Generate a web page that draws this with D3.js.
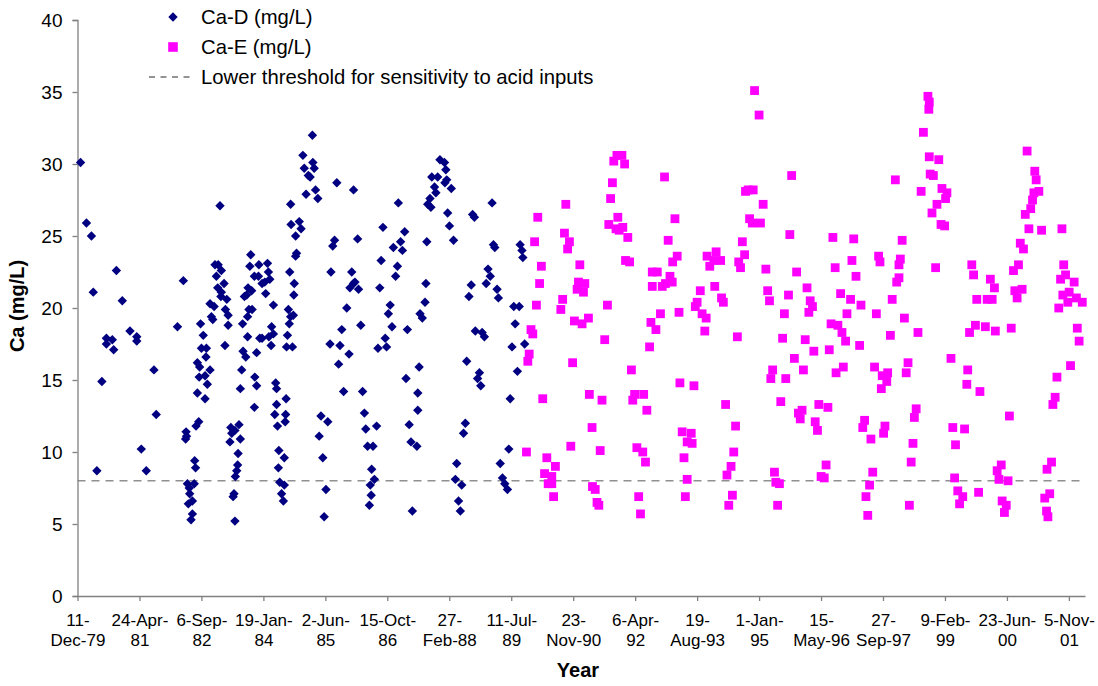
<!DOCTYPE html>
<html>
<head>
<meta charset="utf-8">
<script src="https://cdn.jsdelivr.net/npm/d3@7"></script>
<style>
  html, body { margin: 0; padding: 0; background: #fff; }
  svg { display: block; }
  text { font-family: Arial, "Liberation Sans", sans-serif; fill: #000; }
</style>
</head>
<body>
<svg id="chart" width="1098" height="686"></svg>
<script>
// ---------------- DATA ----------------
const tickLabels = [
  ["11-","Dec-79"],["24-Apr-","81"],["6-Sep-","82"],["19-Jan-","84"],["2-Jun-","85"],
  ["15-Oct-","86"],["27-","Feb-88"],["11-Jul-","89"],["23-","Nov-90"],["6-Apr-","92"],
  ["19-","Aug-93"],["1-Jan-","95"],["15-","May-96"],["27-","Sep-97"],["9-Feb-","99"],
  ["23-Jun-","00"],["5-Nov-","01"]
];
const tickDates = ["1979-12-11","1981-04-24","1982-09-06","1984-01-19","1985-06-02",
  "1986-10-15","1988-02-27","1989-07-11","1990-11-23","1992-04-06","1993-08-19",
  "1995-01-01","1996-05-15","1997-09-27","1999-02-09","2000-06-23","2001-11-05"];
const yTicks = [0,5,10,15,20,25,30,35,40];
const threshold = 8;

// Ca-D sample times (decimal years) and values (mg/L)
const caDYears = [
1980.01,1980.14,1980.25,1980.29,1980.80,1980.93,1980.58,1980.71,1980.58,1980.74,1981.10,1981.25,1981.25,1980.48,1980.37,1981.63,1981.68,1981.35,1981.46,1982.28,1982.15,1983.09,
1982.66,1982.72,1982.68,1982.79,1982.78,1982.59,1982.64,1982.87,1982.63,1982.76,1982.81,1982.59,1982.76,1982.62,1982.56,1982.34,1982.35,1982.33,1982.53,1982.55,1982.37,1982.52,1982.41,1982.42,1982.39,1982.48,1982.48,1982.45,
1982.98,1983.05,1983.12,1983.01,1983.18,1983.04,1983.12,1983.11,1983.24,1982.87,1982.96,1983.21,1983.27,1982.90,1982.93,1983.27,1983.20,
1983.33,1983.42,1983.51,1983.35,1983.54,1983.31,1983.49,1983.48,1983.46,1983.43,1983.40,1983.38,1983.42,
1983.63,1983.59,1983.60,1983.57,1983.54,
1983.77,1983.75,1983.95,1984.14,1984.16,1983.85,1983.94,1984.08,1984.19,1984.02,1983.71,1983.79,1984.10,1983.68,1983.73,1983.80,1983.70,1984.27,1984.23,1983.70,1983.97,1984.02,1984.17,1984.27,1984.22,1983.90,1983.66,1983.86,1983.90,1983.85,
1984.32,1984.34,1984.55,1984.34,1984.30,1984.54,1984.53,1984.36,1984.39,1984.51,1984.38,1984.41,1984.51,1984.45,1984.49,
1984.65,1984.66,1984.84,1984.88,1984.76,1984.78,1984.76,1984.63,1984.73,1984.72,1984.60,1984.71,1984.65,1984.62,1984.58,1984.56,1984.69,
1985.13,1984.92,1985.14,1984.95,1985.17,1985.04,1985.08,1985.20,1984.99,1985.25,
1985.32,1985.47,1985.28,1985.36,1985.43,1985.39,
1985.67,1986.04,1986.13,1985.62,1985.58,1985.54,1986.00,1986.04,1985.96,1986.15,1986.07,1985.89,1985.78,1986.20,1985.52,1985.74,1985.94,1985.71,1985.82,1986.24,1986.28,1986.31,1986.55,1986.35,1986.47,1986.44,1986.50,1986.41,1986.43,1986.39,
1987.03,1986.69,1987.17,1987.08,1986.92,1987.12,1986.65,1987.01,1986.97,1986.62,1986.85,1986.81,1986.89,1986.74,1986.58,1986.77,
1987.23,1987.20,1987.27,1987.31,1987.34,
1987.51,1987.56,1987.49,1987.46,1987.46,1987.44,1987.64,1987.62,1987.66,
1987.95,1988.05,1988.08,1987.77,1987.90,1988.10,1988.06,1987.83,1988.20,1987.86,1987.73,1987.68,1987.75,1988.12,1988.16,1988.25,
1989.10,1988.67,1988.71,1989.13,1989.16,1989.72,1989.76,1989.78,1989.01,1989.06,1988.97,1989.21,1989.24,1988.64,1988.59,1989.58,1989.70,1989.61,1988.73,1988.88,1988.93,1989.54,1989.82,1988.54,1988.82,1988.78,1988.85,1989.66,1989.50,1988.51,1988.47,1989.47,1988.32,1989.28,1988.29,1988.43,1989.33,1989.38,1989.44,1988.36,1988.40
];
const caDValues = [
30.1,25.9,25.0,21.1,22.6,20.5,17.9,17.8,17.5,17.1,18.4,18.0,17.7,14.9,8.7,15.7,12.6,10.2,8.7,21.9,18.7,27.1,
18.9,18.1,17.2,17.2,16.6,16.2,15.9,15.7,15.2,15.3,14.7,14.1,13.7,12.1,11.8,11.4,11.1,10.9,9.4,8.9,7.8,7.8,7.5,7.1,6.4,6.6,5.7,5.3,
23.0,23.0,22.6,22.2,21.7,21.4,21.1,20.8,20.6,20.3,20.1,19.9,19.5,19.4,19.2,18.8,17.4,
11.7,11.5,11.9,11.3,10.9,10.7,9.9,9.1,8.7,8.3,7.1,6.9,5.2,
20.8,18.9,17.0,15.7,14.4,
23.7,22.9,23.0,23.1,22.5,22.2,22.2,21.8,22.0,21.7,21.4,21.2,21.0,20.9,19.9,19.9,19.4,20.2,18.7,18.0,17.9,17.9,18.0,18.2,17.4,16.9,16.6,15.2,14.6,13.1,
14.8,14.4,13.7,13.3,12.6,12.6,12.1,11.8,10.1,9.6,8.9,7.9,7.7,7.1,6.6,
27.2,25.8,26.0,25.5,25.0,23.8,23.6,22.5,21.7,20.9,19.9,19.5,19.4,18.9,18.1,17.3,17.3,
32.0,30.6,30.1,29.7,29.7,29.2,29.1,28.2,27.9,27.6,
12.5,12.1,11.1,9.6,7.4,5.5,
28.7,28.2,24.8,24.7,24.3,22.5,22.5,21.7,21.4,21.3,21.8,20.0,18.5,18.8,17.5,17.4,16.8,16.1,14.2,14.2,12.7,11.6,11.8,10.4,10.4,8.8,8.1,7.7,7.0,6.3,
27.3,25.6,25.3,24.6,24.2,24.0,23.3,22.9,22.2,21.4,20.2,19.6,18.7,17.9,17.2,17.3,
18.5,15.1,11.9,10.7,5.9,
19.6,19.3,15.9,14.1,12.9,10.4,21.7,20.4,24.6,
30.3,30.1,29.6,29.1,29.1,28.9,28.7,28.4,28.3,28.0,27.6,27.2,27.0,26.6,25.7,24.7,
27.3,26.5,26.3,24.4,24.2,24.4,24.0,23.5,22.7,22.2,21.7,21.3,20.7,21.6,20.8,20.1,20.1,18.9,18.4,18.3,18.0,17.3,17.5,16.3,15.5,15.1,14.6,15.6,13.7,12.0,11.3,10.2,9.2,9.2,8.1,7.7,8.2,7.8,7.4,6.6,5.9
];

// Ca-E sample times (decimal years) and values (mg/L)
const caEYears = [
1990.73,1990.11,1990.70,1990.81,1990.04,1990.77,1991.04,1990.19,1990.15,1991.01,1991.15,1990.98,1991.12,1990.66,1990.08,1990.62,1990.92,1991.09,1989.96,1990.00,1989.92,1989.89,1990.88,1990.22,1990.84,1989.86,1990.31,1990.50,1990.26,1990.42,1990.34,1990.42,1990.46,
1994.90,1991.86,1991.97,1991.79,1992.03,1992.91,1991.76,1991.72,1991.88,1991.68,1991.84,1991.99,1991.91,1992.10,1993.14,1992.99,1994.76,1994.70,1994.87,1994.79,1994.85,1994.63,1994.68,1994.55,1994.59,
1992.05,1992.14,1993.19,1993.09,1993.85,1994.05,1994.15,1994.00,1993.91,1992.64,1992.75,1993.03,1993.08,1992.93,1992.86,1992.64,1994.02,1993.70,1994.17,1994.21,1993.63,1993.59,1991.65,1993.23,1992.82,1993.74,1993.83,1992.61,1992.72,1993.80,1991.23,1991.59,1994.52,1992.58,
1992.18,1993.25,1993.56,1991.25,1991.53,1992.25,1992.45,1992.21,1992.52,1994.26,1991.31,1994.48,1993.30,1993.50,1993.41,1993.52,1991.49,1992.30,1992.43,1992.49,1993.34,1994.44,1994.38,1994.29,1993.41,1991.32,1991.38,1991.42,1991.46,1992.34,1992.38,1993.37,1994.41,1994.33,
1995.00,1995.09,1995.03,1995.72,1995.15,1995.68,1995.83,1995.19,1995.23,1995.65,1996.06,1996.13,1996.18,1996.10,1995.56,1995.52,1996.02,1996.21,1995.78,1995.98,1995.30,1995.26,1995.59,1995.48,1995.95,1995.87,1995.91,1996.32,1996.52,1996.24,1996.29,1995.34,1995.37,1995.45,1995.41,1996.48,1996.37,1996.44,
1996.63,1997.09,1997.05,1996.68,1997.14,1996.80,1997.02,1997.25,1996.94,1996.59,1996.74,1996.83,1996.91,1997.22,1996.55,1996.86,1996.70,1997.59,1997.64,1997.67,1998.01,1998.16,1998.12,1998.09,1998.09,1998.04,1997.94,1998.21,1998.51,1997.90,1998.58,1998.63,
1997.55,1997.72,1997.84,1997.82,1997.70,1998.29,1998.25,1998.47,1998.43,1997.33,1997.29,1997.78,1997.75,1997.47,1998.40,1998.36,1997.51,1997.44,1997.36,1997.40,1998.32,
1998.73,1998.76,1998.75,1998.76,1998.97,1998.78,1998.85,1999.04,1999.15,1999.12,1998.93,1998.82,1999.02,1999.10,1998.90,
2000.92,2001.09,2001.12,2001.18,2001.07,2001.04,2001.00,2000.88,2000.96,2001.24,2001.69,2000.77,2000.84,2000.73,2000.62,2000.81,2000.65,2000.70,2000.57,
1999.70,1999.74,2000.11,2000.20,1999.81,2000.04,2000.15,1999.78,1999.65,2000.00,2000.22,
2001.73,2001.77,2001.66,2001.96,2001.71,2001.85,2001.82,2002.01,2002.14,2001.62,2002.03,2002.07,
1999.24,1999.61,1999.59,1999.88,2001.88,2001.58,2001.54,2001.49,2000.53,1999.28,1999.54,1999.34,2000.35,2000.26,2001.46,2001.36,1999.32,2000.30,2000.50,1999.39,1999.50,1999.43,1999.85,2000.37,2000.46,2000.42,2001.42,2001.31,2001.35,2001.38
];
const caEValues = [
27.2,26.3,25.2,24.6,24.6,24.1,23.0,22.9,21.7,21.8,21.7,21.3,21.1,20.6,20.2,19.9,19.1,18.9,18.5,18.2,16.8,16.3,16.2,13.7,10.4,10.0,9.6,9.0,8.5,8.3,7.8,7.8,6.9,
35.1,30.6,30.6,30.2,30.0,29.1,28.7,27.6,26.3,25.8,25.5,25.6,25.4,24.9,26.2,24.7,28.2,28.1,28.2,26.2,25.9,24.6,23.7,23.2,22.8,
23.3,23.2,23.6,23.2,23.6,23.9,23.3,23.3,22.9,22.5,22.5,22.2,21.8,21.7,21.5,21.5,21.5,21.2,20.7,20.4,20.4,20.1,20.2,19.7,19.6,19.6,19.3,19.0,18.5,18.4,19.3,17.8,18.0,17.3,
15.7,14.8,14.6,14.0,13.6,14.0,14.0,13.6,12.9,13.3,11.7,11.8,11.4,11.3,10.7,10.6,10.1,10.3,10.0,9.3,9.6,10.0,9.0,8.4,8.1,7.6,7.4,6.5,6.3,6.9,5.7,6.9,7.0,6.3,
33.4,27.2,25.9,29.2,22.7,25.1,22.5,21.2,20.5,20.9,21.4,20.5,20.1,19.7,19.6,17.9,17.8,17.0,16.5,15.7,15.7,15.1,15.1,13.5,12.9,12.7,12.3,13.3,13.1,12.1,11.5,8.6,7.9,7.8,6.3,9.1,8.3,8.2,
24.9,24.8,23.3,22.8,22.2,21.0,20.6,20.2,19.6,18.9,18.8,18.3,17.7,17.4,17.1,15.9,15.5,19.6,23.6,23.2,28.9,24.7,23.4,23.0,22.1,21.8,20.6,19.3,18.3,18.1,28.1,32.2,
15.9,15.3,15.5,14.9,14.4,16.2,15.5,13.0,12.4,12.2,11.7,11.8,11.3,10.9,10.6,9.3,8.6,7.7,6.9,5.6,6.3,
34.7,34.3,33.8,30.5,30.3,29.3,29.2,28.3,28.0,27.6,27.2,26.6,25.8,25.7,22.8,
30.9,29.5,28.9,28.1,28.0,27.5,26.9,26.5,25.5,25.4,25.5,24.5,24.1,23.0,22.6,21.3,21.2,20.7,18.6,
23.0,22.3,22.0,21.4,20.6,20.6,20.6,18.8,18.3,18.7,18.4,
23.0,22.3,22.0,21.8,20.9,21.1,20.4,20.7,20.4,20.0,18.6,17.7,
16.5,15.7,14.7,14.2,16.0,15.2,13.8,13.3,12.5,11.7,11.6,10.5,9.1,8.7,9.3,8.8,8.2,8.1,8.0,7.3,6.9,6.4,7.2,6.6,6.3,5.8,7.1,6.8,5.9,5.5
];

// ---------------- CHART ----------------
const svg = d3.select("#chart");
const parse = d3.utcParse("%Y-%m-%d");
function decYearToDate(y) {
  const yr = Math.floor(y);
  const a = Date.UTC(yr, 0, 1), b = Date.UTC(yr + 1, 0, 1);
  return new Date(a + (y - yr) * (b - a));
}
const xStart = parse(tickDates[0]);
const xEnd = d3.utcDay.offset(xStart, 8130);
const x = d3.scaleUtc().domain([xStart, xEnd]).range([77.5, 1085]);
const y = d3.scaleLinear().domain([0, 40]).range([596, 20]);
const axisColor = "#808080";

// threshold line (under markers)
svg.append("line")
  .attr("x1", x(xStart)).attr("x2", x(xEnd))
  .attr("y1", y(threshold)).attr("y2", y(threshold))
  .attr("stroke", "#909090").attr("stroke-width", 1.6)
  .attr("stroke-dasharray", "8,6");

// Y axis
const yAxis = svg.append("g").attr("transform", `translate(${x(xStart)},0)`)
  .call(d3.axisLeft(y).tickValues(yTicks).tickSize(5).tickPadding(10));
yAxis.select(".domain").attr("stroke", axisColor).attr("stroke-width", 1.3);
yAxis.selectAll(".tick line").attr("stroke", axisColor).attr("stroke-width", 1.3);
yAxis.selectAll(".tick text").attr("font-size", 19)
  .attr("font-family", "Arial, 'Liberation Sans', sans-serif").attr("fill", "#000");

// X axis
const xAxis = svg.append("g").attr("transform", `translate(0,${y(0)})`)
  .call(d3.axisBottom(x).tickValues(tickDates.map(parse)).tickSize(5).tickSizeOuter(0).tickFormat(() => ""));
xAxis.select(".domain").attr("stroke", axisColor).attr("stroke-width", 1.3);
xAxis.selectAll(".tick line").attr("stroke", axisColor).attr("stroke-width", 1.3);
xAxis.selectAll(".tick text").each(function(d, i) {
  const t = d3.select(this).text(null).attr("y", 0).attr("dy", null)
    .attr("font-size", 17).attr("fill", "#000")
    .attr("font-family", "Arial, 'Liberation Sans', sans-serif");
  t.append("tspan").attr("x", 0).attr("y", 30).text(tickLabels[i][0]);
  t.append("tspan").attr("x", 0).attr("y", 50).text(tickLabels[i][1]);
});

// Axis titles
svg.append("text").attr("x", 578).attr("y", 677).attr("text-anchor", "middle")
  .attr("font-size", 20).attr("font-weight", "bold").text("Year");
svg.append("text").attr("transform", "translate(24,306) rotate(-90)")
  .attr("text-anchor", "middle").attr("font-size", 20).attr("font-weight", "bold")
  .text("Ca (mg/L)");

// Markers
const diamond = (cx, cy, r) => `M${cx},${cy - r}L${cx + r},${cy}L${cx},${cy + r}L${cx - r},${cy}Z`;
const dData = caDYears.map((t, i) => ({ t: decYearToDate(t), v: caDValues[i] }));
const eData = caEYears.map((t, i) => ({ t: decYearToDate(t), v: caEValues[i] }));

svg.append("g").selectAll("path").data(dData).join("path")
  .attr("d", d => diamond(x(d.t), y(d.v), 4.7))
  .attr("fill", "#000080");

const sq = 8.8;
svg.append("g").selectAll("rect").data(eData).join("rect")
  .attr("x", d => x(d.t) - sq / 2).attr("y", d => y(d.v) - sq / 2)
  .attr("width", sq).attr("height", sq)
  .attr("fill", "#FF00FF");

// Legend
const lg = svg.append("g");
lg.append("path").attr("d", diamond(173, 17, 4.7)).attr("fill", "#000080");
lg.append("rect").attr("x", 173 - 4.8).attr("y", 47 - 4.8).attr("width", 9.6).attr("height", 9.6).attr("fill", "#FF00FF");
lg.append("line").attr("x1", 149).attr("x2", 192).attr("y1", 77).attr("y2", 77)
  .attr("stroke", "#707070").attr("stroke-width", 1.3).attr("stroke-dasharray", "6,5.5");
const legendTexts = ["Ca-D (mg/L)", "Ca-E (mg/L)", "Lower threshold for sensitivity to acid inputs"];
legendTexts.forEach((s, i) => {
  lg.append("text").attr("x", 201).attr("y", 17 + 30 * i).attr("dy", "0.35em")
    .attr("font-size", 20.3).text(s);
});
</script>
</body>
</html>
